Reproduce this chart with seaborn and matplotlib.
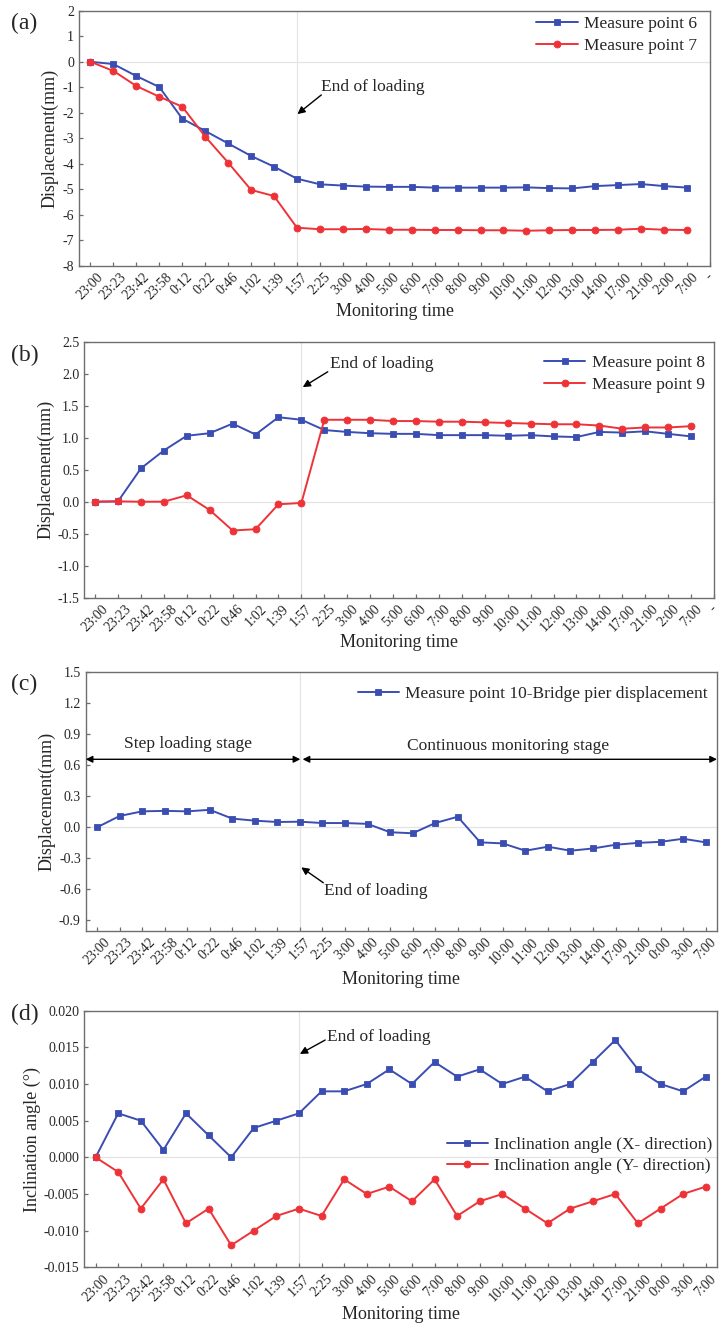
import numpy as np
import pandas as pd
import matplotlib
matplotlib.use("Agg")
import matplotlib.pyplot as plt
import seaborn as sns

# ---------------- data ----------------
times_ab = ["23:00", "23:23", "23:42", "23:58", "0:12", "0:22", "0:46", "1:02", "1:39", "1:57",
            "2:25", "3:00", "4:00", "5:00", "6:00", "7:00", "8:00", "9:00", "10:00", "11:00",
            "12:00", "13:00", "14:00", "17:00", "21:00", "2:00", "7:00", "-"]
times_cd = ["23:00", "23:23", "23:42", "23:58", "0:12", "0:22", "0:46", "1:02", "1:39", "1:57",
            "2:25", "3:00", "4:00", "5:00", "6:00", "7:00", "8:00", "9:00", "10:00", "11:00",
            "12:00", "13:00", "14:00", "17:00", "21:00", "0:00", "3:00", "7:00"]

mp6 = [0, -0.09, -0.56, -0.99, -2.23, -2.71, -3.2, -3.69, -4.11, -4.58, -4.8, -4.85, -4.89,
       -4.9, -4.9, -4.93, -4.93, -4.93, -4.93, -4.92, -4.95, -4.96, -4.87, -4.83, -4.79, -4.87, -4.93]
mp7 = [0, -0.36, -0.95, -1.37, -1.76, -2.93, -3.95, -5.02, -5.26, -6.5, -6.56, -6.56, -6.55,
       -6.58, -6.58, -6.59, -6.59, -6.6, -6.6, -6.62, -6.6, -6.59, -6.59, -6.58, -6.54, -6.58, -6.59]

mp8 = [0, 0.005, 0.52, 0.80, 1.03, 1.07, 1.22, 1.05, 1.32, 1.28, 1.12, 1.09, 1.07, 1.06, 1.06,
       1.04, 1.04, 1.04, 1.03, 1.04, 1.02, 1.01, 1.09, 1.08, 1.10, 1.06, 1.02]
mp9 = [0, 0.005, 0, 0, 0.10, -0.13, -0.45, -0.43, -0.04, -0.02, 1.28, 1.28, 1.28, 1.26, 1.26,
       1.25, 1.25, 1.24, 1.23, 1.22, 1.21, 1.21, 1.19, 1.14, 1.16, 1.16, 1.18]

mp10 = [0.0, 0.11, 0.155, 0.16, 0.155, 0.17, 0.085, 0.065, 0.052, 0.055, 0.042, 0.042, 0.034,
        -0.047, -0.057, 0.042, 0.103, -0.145, -0.155, -0.226, -0.187, -0.226, -0.204, -0.168,
        -0.15, -0.14, -0.11, -0.145]

incl_x = [0, 0.006, 0.005, 0.001, 0.006, 0.003, 0, 0.004, 0.005, 0.006, 0.009, 0.009, 0.010,
          0.012, 0.010, 0.013, 0.011, 0.012, 0.010, 0.011, 0.009, 0.010, 0.013, 0.016, 0.012,
          0.010, 0.009, 0.011]
incl_y = [0, -0.002, -0.007, -0.003, -0.009, -0.007, -0.012, -0.010, -0.008, -0.007, -0.008,
          -0.003, -0.005, -0.004, -0.006, -0.003, -0.008, -0.006, -0.005, -0.007, -0.009, -0.007,
          -0.006, -0.005, -0.009, -0.007, -0.005, -0.004]

yticks_a = [2, 1, 0, -1, -2, -3, -4, -5, -6, -7, -8]
yticks_b = [2.5, 2.0, 1.5, 1.0, 0.5, 0.0, -0.5, -1.0, -1.5]
yticks_c = [1.5, 1.2, 0.9, 0.6, 0.3, 0.0, -0.3, -0.6, -0.9]
yticks_d = [0.020, 0.015, 0.010, 0.005, 0.000, -0.005, -0.010, -0.015]

# ---------------- style ----------------
sns.set_style("ticks")
plt.rcParams["font.family"] = ["Liberation Serif", "DejaVu Serif"]
plt.rcParams["axes.unicode_minus"] = False
plt.rcParams["mathtext.fontset"] = "stix"

BLUE = "#3a4db3"
RED = "#ee3338"
SPINE = "#6e6e6e"
GRIDC = "#e4e4e4"

fig = plt.figure(figsize=(7.2, 13.25), dpi=100)
W, H = 720.0, 1325.0


def make_ax(l, r, t, b):
    return fig.add_axes([l / W, 1 - b / H, (r - l) / W, (b - t) / H])


def style_ax(ax, xlabels, xlim, ylim, yticks, yfmt, ylabel, ylab_x, xlab_y):
    ax.set_xlim(*xlim)
    ax.set_ylim(*ylim)
    ax.axhline(0, color=GRIDC, lw=0.9, zorder=0)
    ax.axvline(9, color=GRIDC, lw=0.9, zorder=0)
    ax.set_xticks(np.arange(len(xlabels)))
    ax.set_xticklabels(xlabels, rotation=45, ha="center", fontsize=10)
    ax.set_yticks(yticks)
    ax.set_yticklabels([yfmt.format(v) for v in yticks], fontsize=10)
    ax.tick_params(direction="in", length=3, width=0.9, color=SPINE, pad=3.5)
    for s in ax.spines.values():
        s.set_color(SPINE)
        s.set_linewidth(1.0)
    ax.set_xlabel("Monitoring time", fontsize=13)
    ax.set_ylabel(ylabel, fontsize=13)
    ax.yaxis.set_label_coords(ylab_x, 0.5)
    ax.xaxis.set_label_coords(0.5, xlab_y)


def series(ax, y, color, marker, label, ms):
    df = pd.DataFrame({"t": np.arange(len(y)), "v": y})
    sns.lineplot(data=df, x="t", y="v", ax=ax, color=color, marker=marker, markersize=ms,
                 markeredgewidth=0.6, markeredgecolor=color, linewidth=1.4, label=label)


def legend(ax, fx, fy):
    ax.legend(loc="upper right", bbox_to_anchor=(fx, fy), frameon=False, fontsize=12.5,
              handlelength=2.4, handletextpad=0.35, labelspacing=0.32, borderpad=0,
              borderaxespad=0)


arrow = dict(arrowstyle="-|>", color="black", lw=1.0, mutation_scale=11, shrinkA=0, shrinkB=0)

# ---------- (a) ----------
axa = make_ax(79, 710, 10.7, 266)
series(axa, mp6, BLUE, "s", "Measure point 6", 4.4)
series(axa, mp7, RED, "o", "Measure point 7", 5.0)
style_ax(axa, times_ab, (-0.5, 27.0), (-8, 2), yticks_a, "{:g}", "Displacement(mm)", -0.032, -0.144)
legend(axa, 0.979, 0.978)
axa.annotate("", xy=(9.02, -2.05), xytext=(10.06, -1.3), arrowprops=arrow)
axa.text(10.06, -1.0, "End of loading", fontsize=12.5, ha="left", va="center")

# ---------- (b) ----------
axb = make_ax(84.3, 714, 341.7, 597.7)
series(axb, mp8, BLUE, "s", "Measure point 8", 4.4)
series(axb, mp9, RED, "o", "Measure point 9", 5.0)
style_ax(axb, times_ab, (-0.47, 27.0), (-1.5, 2.5), yticks_b, "{:.1f}", "Displacement(mm)", -0.048, -0.142)
legend(axb, 0.985, 0.949)
axb.annotate("", xy=(9.06, 1.79), xytext=(10.15, 2.03), arrowprops=arrow)
axb.text(10.26, 2.15, "End of loading", fontsize=12.5, ha="left", va="center")

# ---------- (c) ----------
axc = make_ax(85.7, 717, 672.4, 930.7)
series(axc, mp10, BLUE, "s", "Measure point 10-Bridge pier displacement", 4.4)
style_ax(axc, times_cd, (-0.5, 27.5), (-1.0, 1.5), yticks_c, "{:.1f}", "Displacement(mm)", -0.0486, -0.156)
legend(axc, 0.9857, 0.947)
axc.annotate("", xy=(9.06, -0.387), xytext=(10.04, -0.536), arrowprops=arrow)
axc.text(10.08, -0.62, "End of loading", fontsize=12.5, ha="left", va="center")
dbl = dict(arrowstyle="<|-|>", color="black", lw=1.0, mutation_scale=10, shrinkA=0, shrinkB=0)
axc.annotate("", xy=(-0.5, 0.659), xytext=(9.02, 0.659), arrowprops=dbl)
axc.annotate("", xy=(9.12, 0.659), xytext=(27.5, 0.659), arrowprops=dbl)
axc.text(4.03, 0.804, "Step loading stage", fontsize=12.5, ha="center", va="center")
axc.text(18.24, 0.787, "Continuous monitoring stage", fontsize=12.5, ha="center", va="center")

# ---------- (d) ----------
axd = make_ax(84.3, 717, 1010.7, 1267.3)
series(axd, incl_x, BLUE, "s", "Inclination angle (X- direction)", 4.4)
series(axd, incl_y, RED, "o", "Inclination angle (Y- direction)", 5.0)
style_ax(axd, times_cd, (-0.5, 27.5), (-0.015, 0.020), yticks_d, "{:.3f}", "Inclination angle (°)", -0.068, -0.151)
legend(axd, 0.993, 0.51)
axd.annotate("", xy=(9.04, 0.0141), xytext=(10.16, 0.0160), arrowprops=arrow)
axd.text(10.26, 0.01637, "End of loading", fontsize=12.5, ha="left", va="center")

# panel labels
for lab, yc in [("(a)", 23), ("(b)", 355), ("(c)", 684), ("(d)", 1014)]:
    fig.text(11 / W, 1 - yc / H, lab, fontsize=17, ha="left", va="center")

fig.savefig("out.png", dpi=100)
